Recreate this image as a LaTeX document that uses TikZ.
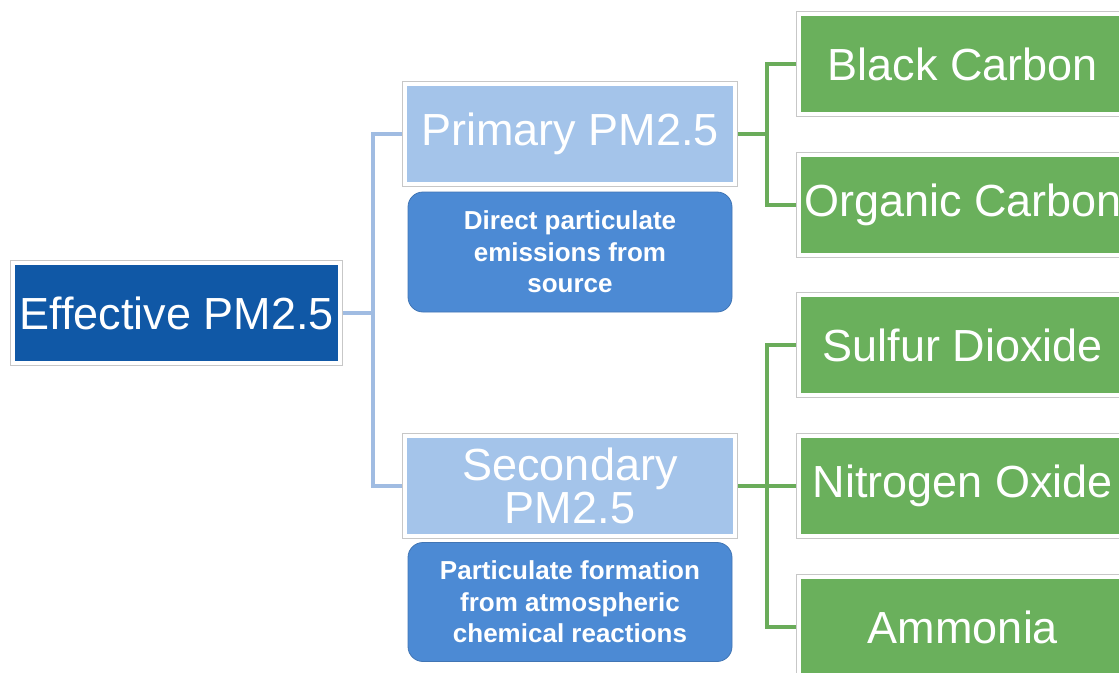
\documentclass[tikz,border=0pt]{standalone}
\usepackage{fontspec}
\setmainfont{Liberation Sans}
\usetikzlibrary{positioning,backgrounds}

\definecolor{effblue}{RGB}{16,88,166}
\definecolor{paleblue}{RGB}{164,196,234}
\definecolor{noteblue}{RGB}{76,138,212}
\definecolor{leafgreen}{RGB}{106,176,92}
\definecolor{linkblue}{RGB}{160,188,226}
\definecolor{linkgreen}{RGB}{106,172,90}

\tikzset{
  mainbox/.style={draw=white, line width=4pt,
    preaction={draw=black!22, line width=5.5pt},
    inner sep=0pt, align=center, text=white,
    minimum width=330pt, minimum height=100pt,
    font=\fontsize{45}{43}\selectfont},
  leafbox/.style={mainbox, fill=leafgreen, minimum width=328pt},
  notebox/.style={fill=noteblue, draw=noteblue!85!black, line width=0.8pt,
    rounded corners=15pt, inner sep=0pt, align=center, text=white,
    minimum width=324pt, minimum height=120pt,
    font=\fontsize{26}{31.5}\selectfont\bfseries},
  bluelink/.style={draw=linkblue, line width=3.6pt},
  greenlink/.style={draw=linkgreen, line width=3.6pt}
}

\begin{document}
\begin{tikzpicture}[x=1pt,y=-1pt]
\clip (0,0) rectangle (1119,672);
% root and the two kinds
\node[mainbox, fill=effblue, minimum width=327pt] (eff) at (176.5,313) {Effective PM2.5};
\node[mainbox, fill=paleblue] (pri) at (570,134) {Primary PM2.5};
\node[notebox] (prinote) at (570,252) {Direct particulate\\emissions from\\source};
\node[mainbox, fill=paleblue] (sec) at (570,486) {Secondary\\PM2.5};
\node[notebox, minimum height=119pt] (secnote) at (570,602) {Particulate formation\\from atmospheric\\chemical reactions};
% sources
\node[leafbox] (bc) at (963,64) {Black Carbon};
\node[leafbox] (oc) at (963,205) {Organic Carbon};
\node[leafbox] (sd) at (963,345) {Sulfur Dioxide};
\node[leafbox] (no) at (963,486) {Nitrogen Oxide};
\node[leafbox] (am) at (963,627) {Ammonia};
% connectors
\coordinate (bsplit) at (373,313);
\coordinate (gsplitA) at (767,134);
\coordinate (gsplitB) at (767,486);
\begin{scope}[on background layer]
\draw[bluelink] (eff.east) -- (bsplit);
\draw[bluelink] (pri.west) -| (bsplit) |- (sec.west);
\draw[greenlink] (pri.east) -- (gsplitA);
\draw[greenlink] (bc.west) -| (gsplitA) |- (oc.west);
\draw[greenlink] (sec.east) -- (gsplitB) -- (no.west);
\draw[greenlink] (sd.west) -| (gsplitB) |- (am.west);
\end{scope}
\end{tikzpicture}
\end{document}
